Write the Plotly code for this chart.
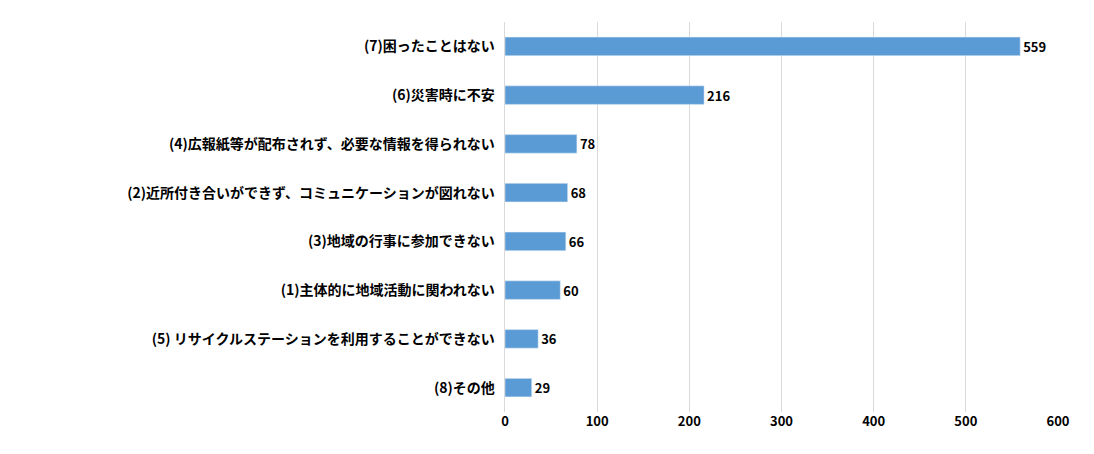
import plotly.graph_objects as go

# categories listed bottom-to-top
categories = [
    '(8)その他',
    '(5) リサイクルステーションを利用することができない',
    '(1)主体的に地域活動に関われない',
    '(3)地域の行事に参加できない',
    '(2)近所付き合いができず、コミュニケーションが図れない',
    '(4)広報紙等が配布されず、必要な情報を得られない',
    '(6)災害時に不安',
    '(7)困ったことはない',
]
counts = [29, 36, 60, 66, 68, 78, 216, 559]

BAR_COLOUR = '#5B9BD5'
FONT = 'Noto Sans CJK JP'

fig = go.Figure(go.Bar(
    x=counts,
    y=categories,
    orientation='h',
    marker=dict(color=BAR_COLOUR),
    text=counts,
    textposition='outside',
    textfont=dict(family=FONT, size=14, color='#000000', weight='bold'),
    cliponaxis=False,
))

fig.update_layout(
    width=1094, height=454,
    margin=dict(l=497, r=44, t=14, b=50, autoexpand=False),
    plot_bgcolor='white', paper_bgcolor='white',
    bargap=0.62,
    showlegend=False,
    font=dict(family=FONT, size=14, color='#000000'),
)
fig.update_xaxes(range=[0, 600], dtick=100, showgrid=True, gridcolor='#D9D9D9',
                 zeroline=False, showline=False, ticks='', automargin=False,
                 tickfont=dict(family=FONT, size=13, weight='bold'))
fig.update_yaxes(showgrid=False, showline=True, linecolor='#D9D9D9', ticks='',
                 automargin=False, ticksuffix='  ',
                 tickfont=dict(family=FONT, size=14, weight='bold'))

fig.write_html('out.html')
